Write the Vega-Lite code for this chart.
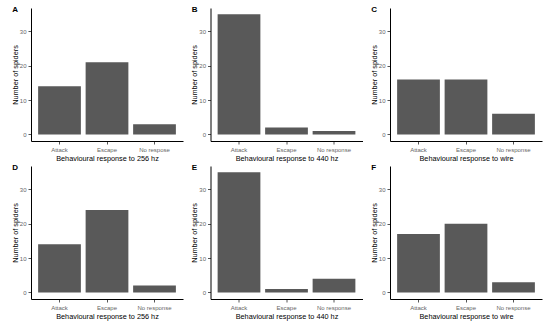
{
  "$schema": "https://vega.github.io/schema/vega-lite/v6.json",
  "padding": {"left": 11, "top": 6, "right": 2, "bottom": 2},
  "datasets": {
    "d": [
      {"panel": "A", "response": "Attack", "n": 14},
      {"panel": "A", "response": "Escape", "n": 21},
      {"panel": "A", "response": "No respose", "n": 3},
      {"panel": "B", "response": "Attack", "n": 35},
      {"panel": "B", "response": "Escape", "n": 2},
      {"panel": "B", "response": "No response", "n": 1},
      {"panel": "C", "response": "Attack", "n": 16},
      {"panel": "C", "response": "Escape", "n": 16},
      {"panel": "C", "response": "No response", "n": 6},
      {"panel": "D", "response": "Attack", "n": 14},
      {"panel": "D", "response": "Escape", "n": 24},
      {"panel": "D", "response": "No response", "n": 2},
      {"panel": "E", "response": "Attack", "n": 35},
      {"panel": "E", "response": "Escape", "n": 1},
      {"panel": "E", "response": "No response", "n": 4},
      {"panel": "F", "response": "Attack", "n": 17},
      {"panel": "F", "response": "Escape", "n": 20},
      {"panel": "F", "response": "No response", "n": 3}
    ]
  },
  "data": {"name": "d"},
  "columns": 3,
  "spacing": {"row": 2, "column": 7.5},
  "config": {
    "font": "Liberation Sans",
    "view": {"stroke": null},
    "axis": {
      "grid": false,
      "domainColor": "#000000",
      "domainWidth": 1,
      "tickColor": "#555555",
      "tickSize": 3,
      "labelColor": "#666666",
      "labelFontSize": 6,
      "labelPadding": 2,
      "titleFontSize": 7.3,
      "titleFontWeight": "normal",
      "titleColor": "#000000"
    },
    "axisX": {"labelAngle": 0, "titlePadding": 2},
    "axisY": {"titlePadding": 0},
    "title": {"anchor": "start", "frame": "bounds", "fontSize": 8, "fontWeight": "bold", "offset": -6, "dx": 1}
  },
  "concat": [
    {
      "title": "A",
      "width": 152, "height": 133,
      "transform": [{"filter": "datum.panel === 'A'"}],
      "mark": {"type": "bar", "color": "#595959"},
      "encoding": {
        "x": {"field": "response", "type": "nominal", "scale": {"paddingInner": 0.1, "paddingOuter": 0.15}, "axis": {"title": "Behavioural response to 256 hz"}},
        "y": {"field": "n", "type": "quantitative", "scale": {"domain": [-1.9, 36.8], "nice": false, "zero": false}, "axis": {"values": [0, 10, 20, 30], "title": "Number of spiders"}}
      }
    },
    {
      "title": "B",
      "width": 152, "height": 133,
      "transform": [{"filter": "datum.panel === 'B'"}],
      "mark": {"type": "bar", "color": "#595959"},
      "encoding": {
        "x": {"field": "response", "type": "nominal", "scale": {"paddingInner": 0.1, "paddingOuter": 0.15}, "axis": {"title": "Behavioural response to 440 hz"}},
        "y": {"field": "n", "type": "quantitative", "scale": {"domain": [-1.9, 36.8], "nice": false, "zero": false}, "axis": {"values": [0, 10, 20, 30], "title": "Number of spiders"}}
      }
    },
    {
      "title": "C",
      "width": 152, "height": 133,
      "transform": [{"filter": "datum.panel === 'C'"}],
      "mark": {"type": "bar", "color": "#595959"},
      "encoding": {
        "x": {"field": "response", "type": "nominal", "scale": {"paddingInner": 0.1, "paddingOuter": 0.15}, "axis": {"title": "Behavioural response to wire"}},
        "y": {"field": "n", "type": "quantitative", "scale": {"domain": [-1.9, 36.8], "nice": false, "zero": false}, "axis": {"values": [0, 10, 20, 30], "title": "Number of spiders"}}
      }
    },
    {
      "title": "D",
      "width": 152, "height": 133,
      "transform": [{"filter": "datum.panel === 'D'"}],
      "mark": {"type": "bar", "color": "#595959"},
      "encoding": {
        "x": {"field": "response", "type": "nominal", "scale": {"paddingInner": 0.1, "paddingOuter": 0.15}, "axis": {"title": "Behavioural response to 256 hz"}},
        "y": {"field": "n", "type": "quantitative", "scale": {"domain": [-1.9, 36.8], "nice": false, "zero": false}, "axis": {"values": [0, 10, 20, 30], "title": "Number of spiders"}}
      }
    },
    {
      "title": "E",
      "width": 152, "height": 133,
      "transform": [{"filter": "datum.panel === 'E'"}],
      "mark": {"type": "bar", "color": "#595959"},
      "encoding": {
        "x": {"field": "response", "type": "nominal", "scale": {"paddingInner": 0.1, "paddingOuter": 0.15}, "axis": {"title": "Behavioural response to 440 hz"}},
        "y": {"field": "n", "type": "quantitative", "scale": {"domain": [-1.9, 36.8], "nice": false, "zero": false}, "axis": {"values": [0, 10, 20, 30], "title": "Number of spiders"}}
      }
    },
    {
      "title": "F",
      "width": 152, "height": 133,
      "transform": [{"filter": "datum.panel === 'F'"}],
      "mark": {"type": "bar", "color": "#595959"},
      "encoding": {
        "x": {"field": "response", "type": "nominal", "scale": {"paddingInner": 0.1, "paddingOuter": 0.15}, "axis": {"title": "Behavioural response to wire"}},
        "y": {"field": "n", "type": "quantitative", "scale": {"domain": [-1.9, 36.8], "nice": false, "zero": false}, "axis": {"values": [0, 10, 20, 30], "title": "Number of spiders"}}
      }
    }
  ]
}
